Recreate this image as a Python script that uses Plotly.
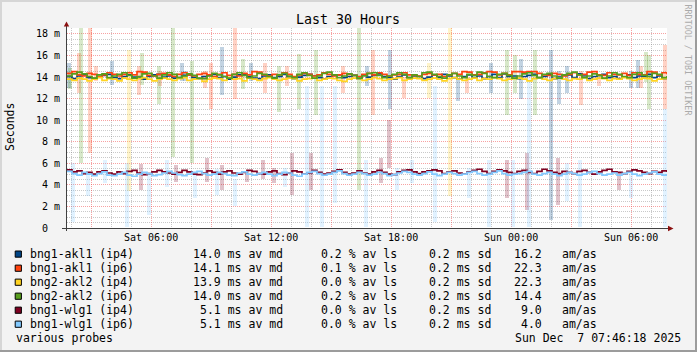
import plotly.graph_objects as go
import pandas as pd

# ---------------- data ----------------
start = pd.Timestamp("2025-12-06 01:48")
end = pd.Timestamp("2025-12-07 07:48")
times = pd.date_range(start, periods=121, freq="15min")

series_names = ["bng1-akl1 (ip4)", "bng1-akl1 (ip6)", "bng2-akl2 (ip4)",
                "bng2-akl2 (ip6)", "bng1-wlg1 (ip4)", "bng1-wlg1 (ip6)"]
series_colors = ["#004586", "#ff420e", "#ffd320", "#579d1c", "#7e0021", "#83caff"]

akl1_ip4 = [14.05,13.85,14.10,14.20,13.95,13.85,14.05,14.15,14.25,13.95,
            13.85,14.05,14.20,14.00,13.90,13.80,14.05,14.20,14.25,14.00,
            14.10,13.90,13.95,14.15,14.20,13.95,13.85,14.05,14.15,14.25,
            13.95,14.05,13.80,14.00,14.20,14.25,14.05,13.90,13.85,14.10,
            14.20,13.95,14.05,14.25,14.00,13.85,14.00,14.15,14.25,14.10,
            13.95,13.80,14.05,14.15,14.20,13.95,14.05,14.15,13.85,14.20,
            14.00,14.15,14.30,14.05,13.95,13.80,14.05,14.20,13.95,14.10,
            14.05,13.85,14.00,14.20,13.95,14.25,14.10,13.95,13.80,14.05,
            14.20,13.95,14.10,13.85,14.05,14.25,13.95,14.30,14.05,14.10,
            13.85,14.05,14.15,14.25,13.95,14.05,14.20,13.85,14.00,14.15,
            14.20,13.95,14.30,14.10,13.85,14.05,14.15,14.25,13.95,14.05,
            13.85,14.00,14.20,13.95,14.10,14.05,14.25,13.95,14.10,13.85,
            14.05]
akl1_ip6 = [14.35,14.50,14.20,14.10,14.35,14.25,14.05,14.20,14.40,14.25,
            14.10,14.25,14.40,14.20,14.50,14.45,14.15,14.10,14.25,14.35,
            14.20,14.05,14.25,14.40,14.20,14.10,14.25,14.35,14.20,14.05,
            14.25,14.40,14.15,14.25,14.10,14.35,14.20,14.50,14.45,14.20,
            14.10,14.25,14.20,14.40,14.25,14.05,14.20,14.35,14.25,14.10,
            14.20,14.40,14.25,14.10,14.20,14.35,14.25,14.15,14.05,14.25,
            14.35,14.20,14.40,14.25,14.10,14.20,14.25,14.40,14.20,14.15,
            14.10,14.25,14.35,14.20,14.25,14.05,14.20,14.35,14.25,14.50,
            14.45,14.20,14.25,14.40,14.50,14.45,14.20,14.35,14.20,14.50,
            14.50,14.45,14.50,14.50,14.35,14.20,14.15,14.35,14.25,14.10,
            14.25,14.40,14.20,14.25,14.45,14.50,14.20,14.15,14.40,14.25,
            14.20,14.35,14.15,14.40,14.25,14.20,14.50,14.45,14.20,14.40,
            14.25]
akl2_ip4 = [13.80,13.70,13.90,13.80,13.65,13.80,13.95,13.70,13.85,13.80,
            13.65,13.90,13.80,13.70,13.85,13.95,13.80,13.65,13.80,13.90,
            13.80,13.70,13.85,13.95,13.70,13.80,13.85,13.60,13.80,13.90,
            13.85,13.70,13.95,13.80,13.85,13.65,13.90,13.80,13.70,13.85,
            13.95,13.80,13.70,13.80,13.90,13.85,13.65,13.80,13.85,13.95,
            13.70,13.80,13.90,13.85,13.70,13.60,13.80,13.90,13.85,13.70,
            13.80,13.95,13.85,13.70,13.80,13.85,13.95,13.70,13.80,13.90,
            13.85,13.70,13.80,13.90,13.80,13.65,13.85,13.95,13.80,13.70,
            13.80,13.90,13.70,13.85,13.80,13.95,13.85,13.70,13.80,13.85,
            13.90,13.80,13.65,13.85,13.95,13.80,13.70,13.85,13.90,13.80,
            13.70,13.85,13.80,13.95,13.70,13.80,13.90,13.85,13.70,13.85,
            13.80,13.95,13.85,13.70,13.80,13.90,13.85,13.65,13.80,13.85,
            13.80]
akl2_ip6 = [14.10,14.30,14.45,14.30,14.05,13.90,14.20,14.30,13.95,14.10,
            14.25,14.40,14.15,13.90,14.05,14.30,14.35,14.10,13.90,14.20,
            14.40,14.25,13.95,14.10,14.30,14.15,13.90,13.85,14.10,14.35,
            14.20,14.05,13.90,14.25,14.40,14.15,13.95,14.10,14.35,14.25,
            14.05,13.90,14.20,14.35,14.10,13.95,14.25,14.40,14.15,13.90,
            14.10,14.35,14.45,14.20,13.95,14.10,14.30,14.15,13.90,14.10,
            14.35,14.40,14.15,13.95,14.10,14.25,14.40,14.25,13.95,14.20,
            14.05,14.40,14.45,14.25,14.05,13.90,14.20,14.35,14.10,13.95,
            14.25,14.15,14.45,14.35,14.05,13.95,14.25,14.35,14.15,13.90,
            14.10,14.30,14.40,14.15,13.95,14.25,14.35,14.10,13.90,14.20,
            14.35,14.45,14.20,13.95,14.10,14.30,14.15,13.90,14.10,14.40,
            14.25,14.05,13.95,14.25,14.40,14.15,14.05,14.35,14.25,13.95,
            14.10]
wlg1_ip4 = [5.40,5.20,5.30,5.05,5.15,5.00,5.20,5.30,5.10,5.00,
            5.20,5.05,5.25,5.35,5.10,4.95,5.05,5.20,5.35,5.20,
            5.10,5.00,5.15,5.35,5.20,5.00,4.95,5.10,5.30,5.15,
            5.00,5.20,5.30,5.10,5.00,5.15,5.35,5.25,5.05,5.00,
            5.20,5.30,5.05,4.95,5.10,5.30,5.20,5.00,5.10,5.35,
            5.15,5.00,5.10,5.25,5.40,5.15,5.00,5.10,5.30,5.10,
            5.00,5.20,5.35,5.15,5.00,4.95,5.20,5.35,5.40,5.20,
            5.05,5.20,5.30,5.40,5.30,5.05,5.20,5.30,5.10,5.00,
            5.20,5.35,5.45,5.25,5.05,5.25,5.40,5.30,5.15,5.05,
            5.25,5.35,5.15,5.05,5.25,5.45,5.30,5.15,5.05,5.25,
            5.15,5.05,5.25,5.35,5.15,5.00,5.20,5.35,5.45,5.20,
            5.15,5.05,5.25,5.40,5.30,5.15,5.05,5.25,5.15,5.30,
            5.20]
wlg1_ip6 = [5.25,5.05,4.90,5.15,5.00,4.85,5.05,5.20,4.90,4.85,
            5.00,5.15,4.90,4.80,5.00,5.15,5.05,4.85,4.95,5.10,
            5.25,5.10,4.95,4.85,5.00,5.15,5.25,5.05,4.90,5.00,
            5.15,5.05,4.90,4.85,5.10,5.20,5.00,4.90,5.05,5.15,
            5.00,4.85,5.00,5.15,5.10,4.90,4.80,5.00,5.15,5.25,
            5.05,4.90,5.00,5.15,5.30,5.05,4.90,5.00,5.15,5.05,
            4.90,5.00,5.15,5.05,4.85,4.95,5.10,5.25,5.15,5.00,
            4.90,5.05,5.20,5.00,4.85,5.00,5.15,5.05,4.90,5.00,
            5.15,5.25,5.05,4.90,5.00,5.15,5.30,5.05,4.90,5.00,
            5.05,5.15,5.25,5.00,4.90,5.05,5.15,5.00,4.85,5.00,
            5.15,5.05,4.90,5.00,5.15,5.25,5.05,4.90,5.00,5.10,
            4.90,5.05,5.15,5.00,4.85,5.00,5.10,5.20,5.00,4.90,
            5.00]

# smoke spikes: (hours after start, low, high) in ms
akl1_ip4_smoke = [(0.1,13.0,15.3),(2.25,13.3,15.5),(5.75,13.6,15.3),(5.9,13.6,14.6),(7.75,12.3,16.8),
                  (9.2,13.6,15.3),(15.0,13.2,15.0),(16.15,11.0,16.5),(19.55,11.8,13.9),(21.2,12.5,15.3),
                  (22.7,12.0,15.7),(24.2,0.7,16.5),(24.6,11.5,14.6),(25.0,12.5,15.0),(28.2,13.0,14.6),
                  (28.55,13.0,15.6)]
akl1_ip6_smoke = [(0.6,12.5,16.2),(1.15,7.0,18.6),(1.45,13.6,15.0),(3.6,12.3,15.0),(4.65,13.2,14.6),
                  (6.9,13.0,14.6),(7.2,11.0,15.3),(8.4,12.0,18.6),(9.9,12.5,15.3),(11.0,13.2,15.0),
                  (13.8,12.5,15.0),(15.3,10.5,16.5),(16.85,12.1,14.0),(20.0,12.5,14.0),(25.7,11.4,14.6),
                  (26.6,13.2,14.3),(28.7,13.0,15.0),(29.9,11.0,17.0)]
akl2_ip4_smoke = [(3.1,3.4,16.5),(18.1,12.1,15.3),(19.15,3.0,18.6)]
akl2_ip6_smoke = [(0.15,12.9,14.8),(0.7,6.0,18.6),(3.75,13.3,16.2),(4.6,11.5,15.0),(5.3,6.6,18.6),
                  (6.25,6.0,15.5),(8.8,12.9,15.7),(10.6,10.8,15.0),(11.6,11.0,16.1),(12.45,10.5,16.5),
                  (14.6,3.5,18.6),(22.0,10.5,16.5),(22.4,12.5,16.0),(23.4,10.5,16.5),(28.95,13.5,16.3),
                  (29.1,11.0,16.0)]
wlg1_ip4_smoke = [(3.7,3.5,5.9),(5.45,4.3,5.8),(7.0,4.3,6.5),(7.75,3.5,5.8),(9.0,4.3,5.3),
                  (9.8,4.5,6.3),(10.35,4.2,5.6),(11.25,3.1,7.0),(12.2,3.5,7.0),(15.7,4.2,6.5),
                  (16.1,5.6,10.0),(22.0,2.8,6.3),(23.0,1.7,7.0),(24.55,2.1,6.5),(27.6,3.5,5.2)]
wlg1_ip6_smoke = [(0.3,0.55,6.0),(1.05,3.0,5.0),(1.9,4.2,6.3),(3.0,0.1,6.0),(4.1,1.2,5.0),
                  (5.0,3.8,6.3),(6.4,2.8,5.2),(7.5,3.1,5.5),(8.4,2.0,4.5),(10.9,3.8,5.6),
                  (12.0,0.1,13.2),(12.75,0.1,13.2),(13.4,2.3,13.2),(14.95,0.1,6.3),(16.5,3.5,5.6),
                  (17.25,4.2,6.3),(18.4,0.6,13.2),(20.1,2.8,5.6),(21.1,0.1,6.3),(22.3,0.1,6.3),
                  (23.1,0.1,14.0),(25.0,2.5,6.0),(25.65,0.1,6.3),(28.2,2.8,5.0),(29.9,0.1,11.0)]

median_stat = ["14.0", "14.1", "13.9", "14.0", "5.1", "5.1"]
loss_stat = ["0.2", "0.1", "0.0", "0.2", "0.0", "0.0"]
sd_stat = ["0.2", "0.2", "0.2", "0.2", "0.2", "0.2"]
amas_stat = ["16.2", "22.3", "22.3", "14.4", "9.0", "4.0"]

x_tick_vals = ["2025-12-06 06:00", "2025-12-06 12:00", "2025-12-06 18:00",
               "2025-12-07 00:00", "2025-12-07 06:00"]
x_tick_text = ["Sat 06:00", "Sat 12:00", "Sat 18:00", "Sun 00:00", "Sun 06:00"]
y_tick_vals = [0, 2, 4, 6, 8, 10, 12, 14, 16, 18]
y_tick_nums = ["0", "2", "4", "6", "8", "10", "12", "14", "16", "18"]
y_tick_units = ["", "m", "m", "m", "m", "m", "m", "m", "m", "m"]

series_values = [akl1_ip4, akl1_ip6, akl2_ip4, akl2_ip6, wlg1_ip4, wlg1_ip6]
series_smoke = [akl1_ip4_smoke, akl1_ip6_smoke, akl2_ip4_smoke, akl2_ip6_smoke,
                wlg1_ip4_smoke, wlg1_ip6_smoke]

# ---------------- layout helpers ----------------
W, H = 697, 352
L, R, T, B = 67, 30, 28, 124
PW, PH = W - L - R, H - T - B
FONT = "DejaVu Sans Mono"


def px(x):
    return (x - L) / PW


def py(y):
    return (T + PH - y) / PH


def rgba(hexc, a):
    hexc = hexc.lstrip("#")
    r, g, b = int(hexc[0:2], 16), int(hexc[2:4], 16), int(hexc[4:6], 16)
    return f"rgba({r},{g},{b},{a})"


fig = go.Figure()

# smoke
for col, sm in zip(series_colors, series_smoke):
    fig.add_trace(go.Bar(
        x=[start + pd.Timedelta(hours=h) for h, _, _ in sm],
        base=[lo for _, lo, _ in sm],
        y=[hi - lo for _, lo, hi in sm],
        width=660000,
        marker=dict(color=rgba(col, 0.24), line=dict(width=0)),
        hoverinfo="skip", showlegend=False))

# median lines
for col, vals in zip(series_colors, series_values):
    fig.add_trace(go.Scatter(
        x=times, y=vals, mode="lines",
        line=dict(color=col, width=1.7, shape="hv"),
        hoverinfo="skip", showlegend=False))

RED = "rgba(240,70,70,0.5)"
GRAY = "rgba(120,120,120,0.4)"

fig.update_layout(
    width=W, height=H,
    margin=dict(l=L, r=R, t=T, b=B, pad=0),
    paper_bgcolor="#f3f3f3", plot_bgcolor="#ffffff",
    showlegend=False, barmode="overlay", bargap=0,
    xaxis=dict(type="date", range=[start, end], tickmode="linear",
               tick0="2025-12-06 00:00", dtick=3 * 3600000,
               showgrid=True, gridcolor=RED, griddash="1px,1px", gridwidth=1,
               showticklabels=False, ticks="", zeroline=False, showline=False,
               minor=dict(showgrid=True, tick0="2025-12-06 00:00", dtick=3600000,
                          gridcolor=GRAY, griddash="1px,1px", gridwidth=1)),
    yaxis=dict(range=[0, 18.55], tickmode="linear", tick0=0, dtick=2,
               showgrid=True, gridcolor=RED, griddash="1px,1px", gridwidth=1,
               showticklabels=False, ticks="", zeroline=False, showline=False,
               minor=dict(showgrid=True, dtick=0.5,
                          gridcolor=GRAY, griddash="1px,1px", gridwidth=1)),
)

shapes = []
# frame border
shapes.append(dict(type="rect", xref="paper", yref="paper", x0=px(0), x1=px(W), y0=py(0), y1=py(2),
                   fillcolor="#d6d6d6", line=dict(width=0), layer="above"))
shapes.append(dict(type="rect", xref="paper", yref="paper", x0=px(0), x1=px(2), y0=py(0), y1=py(H),
                   fillcolor="#d6d6d6", line=dict(width=0), layer="above"))
shapes.append(dict(type="rect", xref="paper", yref="paper", x0=px(0), x1=px(W), y0=py(H - 2), y1=py(H),
                   fillcolor="#9c9c9c", line=dict(width=0), layer="above"))
shapes.append(dict(type="rect", xref="paper", yref="paper", x0=px(W - 2), x1=px(W), y0=py(0), y1=py(H),
                   fillcolor="#9c9c9c", line=dict(width=0), layer="above"))
# axes
shapes.append(dict(type="line", xref="paper", yref="paper", x0=px(62), x1=px(669), y0=py(228.5), y1=py(228.5),
                   line=dict(color="#404040", width=1), layer="above"))
shapes.append(dict(type="line", xref="paper", yref="paper", x0=px(66.5), x1=px(66.5), y0=py(231), y1=py(24),
                   line=dict(color="#404040", width=1), layer="above"))
shapes.append(dict(type="path", xref="paper", yref="paper",
                   path=f"M {px(63.8)} {py(26.5)} L {px(69.2)} {py(26.5)} L {px(66.5)} {py(21.5)} Z",
                   fillcolor="#8b1010", line=dict(width=0), layer="above"))
shapes.append(dict(type="path", xref="paper", yref="paper",
                   path=f"M {px(668)} {py(225.8)} L {px(668)} {py(231.2)} L {px(673.5)} {py(228.5)} Z",
                   fillcolor="#8b1010", line=dict(width=0), layer="above"))

ann = []
# title
ann.append(dict(text="Last 30 Hours", x=px(347.5), y=py(19.5), xref="paper", yref="paper",
                xanchor="center", yanchor="middle", showarrow=False,
                font=dict(family=FONT, size=13.3, color="#000")))
# y label
ann.append(dict(text="Seconds", x=px(10), y=py(127), xref="paper", yref="paper", textangle=-90,
                xanchor="center", yanchor="middle", showarrow=False,
                font=dict(family=FONT, size=11.5, color="#000")))
# watermark
ann.append(dict(text="RRDTOOL / TOBI OETIKER", x=px(687.5), y=py(60), xref="paper", yref="paper",
                textangle=90, xanchor="center", yanchor="middle", showarrow=False,
                font=dict(family=FONT, size=8.4, color="#ababab")))
# x tick labels
for tv, tt in zip(x_tick_vals, x_tick_text):
    ann.append(dict(text=tt, x=tv, y=py(237.7), xref="x", yref="paper",
                    xanchor="center", yanchor="middle", showarrow=False,
                    font=dict(family=FONT, size=10, color="#000")))
# y tick labels
for v, n, u in zip(y_tick_vals, y_tick_nums, y_tick_units):
    ann.append(dict(text=n, x=px(47.6), y=v, xref="paper", yref="y",
                    xanchor="right", yanchor="middle", showarrow=False,
                    borderpad=0, borderwidth=0,
                    font=dict(family=FONT, size=10, color="#000")))
    if u:
        ann.append(dict(text=u, x=px(57.2), y=v, xref="paper", yref="y",
                        xanchor="center", yanchor="middle", showarrow=False,
                        font=dict(family=FONT, size=10, color="#000")))

# legend rows
row_y = [254.2, 268.3, 282.3, 296.3, 310.3, 324.3]
LF = dict(family=FONT, size=11.5, color="#000")
for i in range(6):
    yy = py(row_y[i])
    shapes.append(dict(type="rect", xref="paper", yref="paper",
                       x0=px(15.2), x1=px(21.4), y0=py(row_y[i] - 3.2), y1=py(row_y[i] + 3.0),
                       fillcolor=series_colors[i], line=dict(color="#000", width=1), layer="above"))
    items = [
        (series_names[i], 30.0, "left"),
        (f"{median_stat[i]} ms av md", 283.3, "right"),
        (f"{loss_stat[i]} % av ls", 397.3, "right"),
        (f"{sd_stat[i]} ms sd", 490.6, "right"),
        (amas_stat[i], 542.3, "right"),
        ("am/as", 562.0, "left"),
    ]
    for txt, xx, anc in items:
        ann.append(dict(text=txt, x=px(xx), y=yy, xref="paper", yref="paper",
                        xanchor=anc, yanchor="middle", showarrow=False,
                        borderpad=0, borderwidth=0, font=LF))

ann.append(dict(text="various probes", x=px(16.1), y=py(337.7), xref="paper", yref="paper",
                xanchor="left", yanchor="middle", showarrow=False, borderpad=0, borderwidth=0, font=LF))
ann.append(dict(text="Sun Dec  7 07:46:18 2025".replace("  ", "\u00a0\u00a0"), x=px(680.6), y=py(337.7),
                xref="paper", yref="paper", xanchor="right", yanchor="middle", showarrow=False,
                borderpad=0, borderwidth=0, font=LF))

fig.update_layout(shapes=shapes, annotations=ann)
fig.write_html("out.html")
